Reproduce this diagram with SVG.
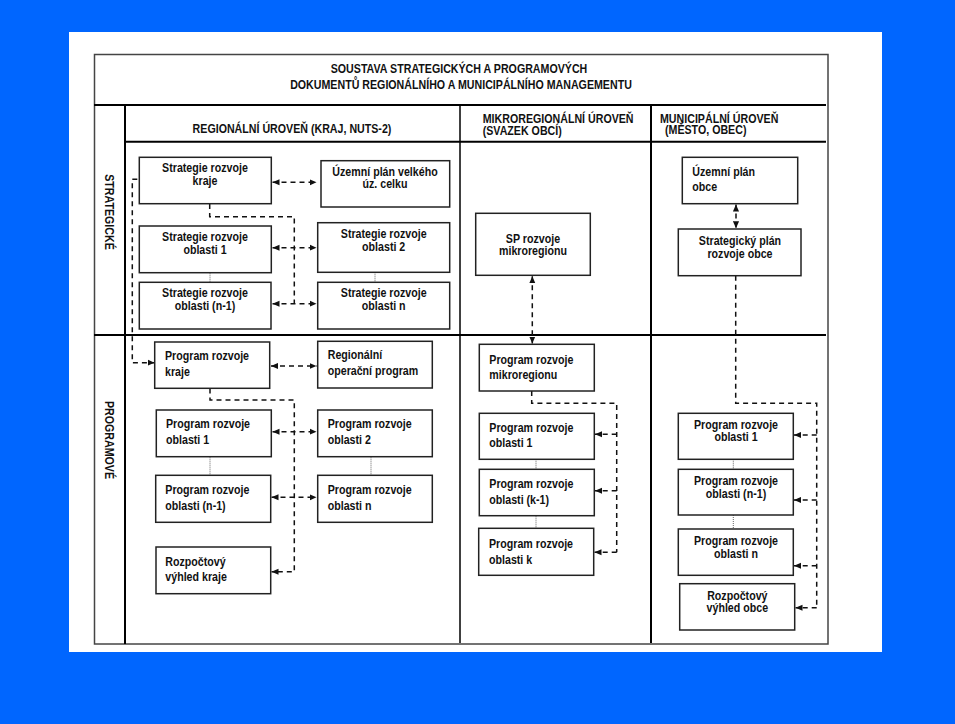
<svg xmlns="http://www.w3.org/2000/svg" width="955" height="724" viewBox="0 0 955 724">
<style>
text{font-family:"Liberation Sans",Arial,sans-serif;font-weight:bold;font-size:13px;fill:#111}
.c{text-anchor:middle}
.box{fill:#fff;stroke:#222;stroke-width:1.5}
.grid{stroke:#000;stroke-width:2;fill:none}
.dash{fill:none;stroke:#111;stroke-width:1.5;stroke-dasharray:5,4}
.dot{fill:none;stroke:#666;stroke-width:1;stroke-dasharray:1,1}
</style>
<defs>
<marker id="ah" viewBox="0 0 8 8" refX="8" refY="4" markerWidth="7" markerHeight="7" markerUnits="userSpaceOnUse" orient="auto-start-reverse"><path d="M0,0.5 L8,4 L0,7.5 z" fill="#111"/></marker>
</defs>
<rect width="955" height="724" fill="#0066ff"/>
<rect x="69" y="32" width="813" height="620" fill="#fff"/>
<g id="table">
<rect x="94.5" y="54.5" width="733.5" height="589.5" fill="none" stroke="#444" stroke-width="1.5"/>
<line class="grid" x1="94" y1="105" x2="826" y2="105"/>
<line class="grid" x1="125" y1="141.7" x2="826" y2="141.7"/>
<line class="grid" x1="94" y1="335" x2="826" y2="335"/>
<line class="grid" x1="125" y1="105" x2="125" y2="644"/>
<line x1="460" y1="105" x2="460" y2="643" stroke="#000" stroke-width="1.5"/>
<line class="grid" x1="651" y1="105" x2="651" y2="643"/>
<text class="c" transform="translate(459,73.3) scale(.82,1)">SOUSTAVA STRATEGICKÝCH A PROGRAMOVÝCH</text>
<text class="c" transform="translate(461,89.3) scale(.82,1)">DOKUMENTŮ REGIONÁLNÍHO A MUNICIPÁLNÍHO MANAGEMENTU</text>
<text class="c" transform="translate(292,133.3) scale(.82,1)">REGIONÁLNÍ ÚROVEŇ (KRAJ, NUTS-2)</text>
<text transform="translate(482.7,123.3) scale(.82,1)">MIKROREGIONÁLNÍ ÚROVEŇ</text>
<text transform="translate(482.7,134.5) scale(.82,1)">(SVAZEK OBCÍ)</text>
<text transform="translate(660,123.3) scale(.82,1)">MUNICIPÁLNÍ ÚROVEŇ</text>
<text transform="translate(665,134) scale(.82,1)">(MĚSTO, OBEC)</text>
<text class="c" transform="translate(110,212) rotate(90) scale(.82,1)" y="4.6">STRATEGICKÉ</text>
<text class="c" transform="translate(110,440) rotate(90) scale(.82,1)" y="4.6">PROGRAMOVÉ</text>
</g>
<g id="connectors">
<path class="dash" marker-start="url(#ah)" marker-end="url(#ah)" d="M272.5,182.3 H316.5"/>
<path class="dash" marker-start="url(#ah)" marker-end="url(#ah)" d="M272.5,247.7 H316.5"/>
<path class="dash" marker-start="url(#ah)" marker-end="url(#ah)" d="M272.5,303.7 H316.5"/>
<path class="dash" d="M209.7,204 V216.7 H294.3 V303"/>
<path class="dash" marker-end="url(#ah)" d="M137.3,179.3 H132.3 V362.7 H154.5"/>
<path class="dash" marker-start="url(#ah)" marker-end="url(#ah)" d="M271,366 H316.5"/>
<path class="dash" marker-start="url(#ah)" marker-end="url(#ah)" d="M272.5,431.7 H316.5"/>
<path class="dash" marker-start="url(#ah)" marker-end="url(#ah)" d="M271.5,497.3 H316.5"/>
<path class="dash" marker-end="url(#ah)" d="M210,388.5 V400 H294.3 V571.7 H271.5"/>
<path class="dot" d="M210,272.7 V282.3 M375,272.3 V282.3 M210,456.7 V475.3 M371,456.7 V475.3"/>
<path class="dash" marker-start="url(#ah)" marker-end="url(#ah)" d="M532.3,276.3 V343.5"/>
<path class="dash" d="M531.7,391 V403.3 H616.7 V552.3"/>
<path class="dash" marker-end="url(#ah)" d="M616.7,434.3 H595"/>
<path class="dash" marker-end="url(#ah)" d="M616.7,490.7 H595"/>
<path class="dash" marker-end="url(#ah)" d="M616.7,552.3 H594.5"/>
<path class="dot" d="M536,459.3 V469.3 M536,515.7 V528.3"/>
<path class="dash" marker-start="url(#ah)" marker-end="url(#ah)" d="M736,204.5 V228.3"/>
<path class="dash" d="M735.7,275.7 V403.3 H816.7 V607.7"/>
<path class="dash" marker-end="url(#ah)" d="M816.7,435 H794"/>
<path class="dash" marker-end="url(#ah)" d="M816.7,500 H794"/>
<path class="dash" marker-end="url(#ah)" d="M816.7,565.7 H794"/>
<path class="dash" marker-end="url(#ah)" d="M816.7,607.7 H795.5"/>
<path class="dot" d="M733.3,459.3 V469.3 M733.3,515 V529"/>
</g>
<g id="n-srk"><rect class="box" x="139.3" y="157.3" width="132" height="46.4"/><text class="c" transform="translate(205,172.2) scale(.82,1)">Strategie rozvoje</text><text class="c" transform="translate(205,185.2) scale(.82,1)">kraje</text></g>
<g id="n-upvuc"><rect class="box" x="321" y="160.7" width="128.7" height="46.3"/><text class="c" transform="translate(385,175.5) scale(.82,1)">Územní plán velkého</text><text class="c" transform="translate(385,187.8) scale(.82,1)">úz. celku</text></g>
<g id="n-sro1"><rect class="box" x="139.3" y="226" width="132" height="46.7"/><text class="c" transform="translate(205,241.2) scale(.82,1)">Strategie rozvoje</text><text class="c" transform="translate(205,253.8) scale(.82,1)">oblasti 1</text></g>
<g id="n-sro2"><rect class="box" x="317.7" y="222.7" width="132" height="49.6"/><text class="c" transform="translate(383.7,237.8) scale(.82,1)">Strategie rozvoje</text><text class="c" transform="translate(383.7,250.5) scale(.82,1)">oblasti 2</text></g>
<g id="n-sron1"><rect class="box" x="139.3" y="282.3" width="131.7" height="46.7"/><text class="c" transform="translate(205,297.2) scale(.82,1)">Strategie rozvoje</text><text class="c" transform="translate(205,310.2) scale(.82,1)">oblasti (n-1)</text></g>
<g id="n-sron"><rect class="box" x="317.7" y="282.3" width="132" height="46.7"/><text class="c" transform="translate(383.7,297.2) scale(.82,1)">Strategie rozvoje</text><text class="c" transform="translate(383.7,310.2) scale(.82,1)">oblasti n</text></g>
<g id="n-prk"><rect class="box" x="154.7" y="342" width="115" height="46.3"/><text transform="translate(165,360.2) scale(.82,1)">Program rozvoje</text><text transform="translate(165,376.2) scale(.82,1)">kraje</text></g>
<g id="n-rop"><rect class="box" x="317.7" y="341.3" width="114.6" height="46.7"/><text transform="translate(327.7,358.8) scale(.82,1)">Regionální</text><text transform="translate(327.7,375.2) scale(.82,1)">operační program</text></g>
<g id="n-pro1"><rect class="box" x="156.3" y="410" width="115" height="46.7"/><text transform="translate(166,428.2) scale(.82,1)">Program rozvoje</text><text transform="translate(166,443.5) scale(.82,1)">oblasti 1</text></g>
<g id="n-pro2"><rect class="box" x="317.7" y="410" width="114.6" height="46.7"/><text transform="translate(327.7,428.2) scale(.82,1)">Program rozvoje</text><text transform="translate(327.7,443.5) scale(.82,1)">oblasti 2</text></g>
<g id="n-pron1"><rect class="box" x="155.7" y="475.3" width="115" height="47"/><text transform="translate(165.3,493.8) scale(.82,1)">Program rozvoje</text><text transform="translate(165.3,509.8) scale(.82,1)">oblasti (n-1)</text></g>
<g id="n-pron"><rect class="box" x="317.7" y="475.3" width="114.6" height="47"/><text transform="translate(327.7,493.8) scale(.82,1)">Program rozvoje</text><text transform="translate(327.7,509.8) scale(.82,1)">oblasti n</text></g>
<g id="n-rvk"><rect class="box" x="156" y="547" width="114.7" height="46.7"/><text transform="translate(165.3,565.5) scale(.82,1)">Rozpočtový</text><text transform="translate(165.3,581.2) scale(.82,1)">výhled kraje</text></g>
<g id="n-spm"><rect class="box" x="475.7" y="213.3" width="114.6" height="62"/><text class="c" transform="translate(533,242.8) scale(.82,1)">SP rozvoje</text><text class="c" transform="translate(533,255.2) scale(.82,1)">mikroregionu</text></g>
<g id="n-prm"><rect class="box" x="479.3" y="344.3" width="115" height="46.7"/><text transform="translate(489.3,363.5) scale(.82,1)">Program rozvoje</text><text transform="translate(489.3,378.8) scale(.82,1)">mikroregionu</text></g>
<g id="n-mo1"><rect class="box" x="479.3" y="413.3" width="115" height="46"/><text transform="translate(489.3,431.8) scale(.82,1)">Program rozvoje</text><text transform="translate(489.3,447.2) scale(.82,1)">oblasti 1</text></g>
<g id="n-mok1"><rect class="box" x="479.3" y="469.3" width="115" height="46.4"/><text transform="translate(489.3,487.8) scale(.82,1)">Program rozvoje</text><text transform="translate(489.3,503.5) scale(.82,1)">oblasti (k-1)</text></g>
<g id="n-mok"><rect class="box" x="478.7" y="528.3" width="115" height="47"/><text transform="translate(489,547.8) scale(.82,1)">Program rozvoje</text><text transform="translate(489,563.5) scale(.82,1)">oblasti k</text></g>
<g id="n-upo"><rect class="box" x="682.3" y="157.3" width="115.4" height="46.4"/><text transform="translate(692.3,176.2) scale(.82,1)">Územní plán</text><text transform="translate(692.3,191.2) scale(.82,1)">obce</text></g>
<g id="n-spro"><rect class="box" x="678.3" y="229" width="122.7" height="46.7"/><text class="c" transform="translate(740,244.5) scale(.82,1)">Strategický plán</text><text class="c" transform="translate(740,257.8) scale(.82,1)">rozvoje obce</text></g>
<g id="n-uo1"><rect class="box" x="678.3" y="413.3" width="115" height="46"/><text class="c" transform="translate(736,428.5) scale(.82,1)">Program rozvoje</text><text class="c" transform="translate(736,441.2) scale(.82,1)">oblasti 1</text></g>
<g id="n-uon1"><rect class="box" x="678.3" y="469.3" width="115" height="45.7"/><text class="c" transform="translate(736,484.5) scale(.82,1)">Program rozvoje</text><text class="c" transform="translate(736,497.8) scale(.82,1)">oblasti (n-1)</text></g>
<g id="n-uon"><rect class="box" x="678.3" y="529" width="115" height="46.3"/><text class="c" transform="translate(736,544.5) scale(.82,1)">Program rozvoje</text><text class="c" transform="translate(736,557.8) scale(.82,1)">oblasti n</text></g>
<g id="n-rvo"><rect class="box" x="679.7" y="583.7" width="115" height="46.3"/><text class="c" transform="translate(737.3,599.5) scale(.82,1)">Rozpočtový</text><text class="c" transform="translate(737.3,611.8) scale(.82,1)">výhled obce</text></g>
</svg>
